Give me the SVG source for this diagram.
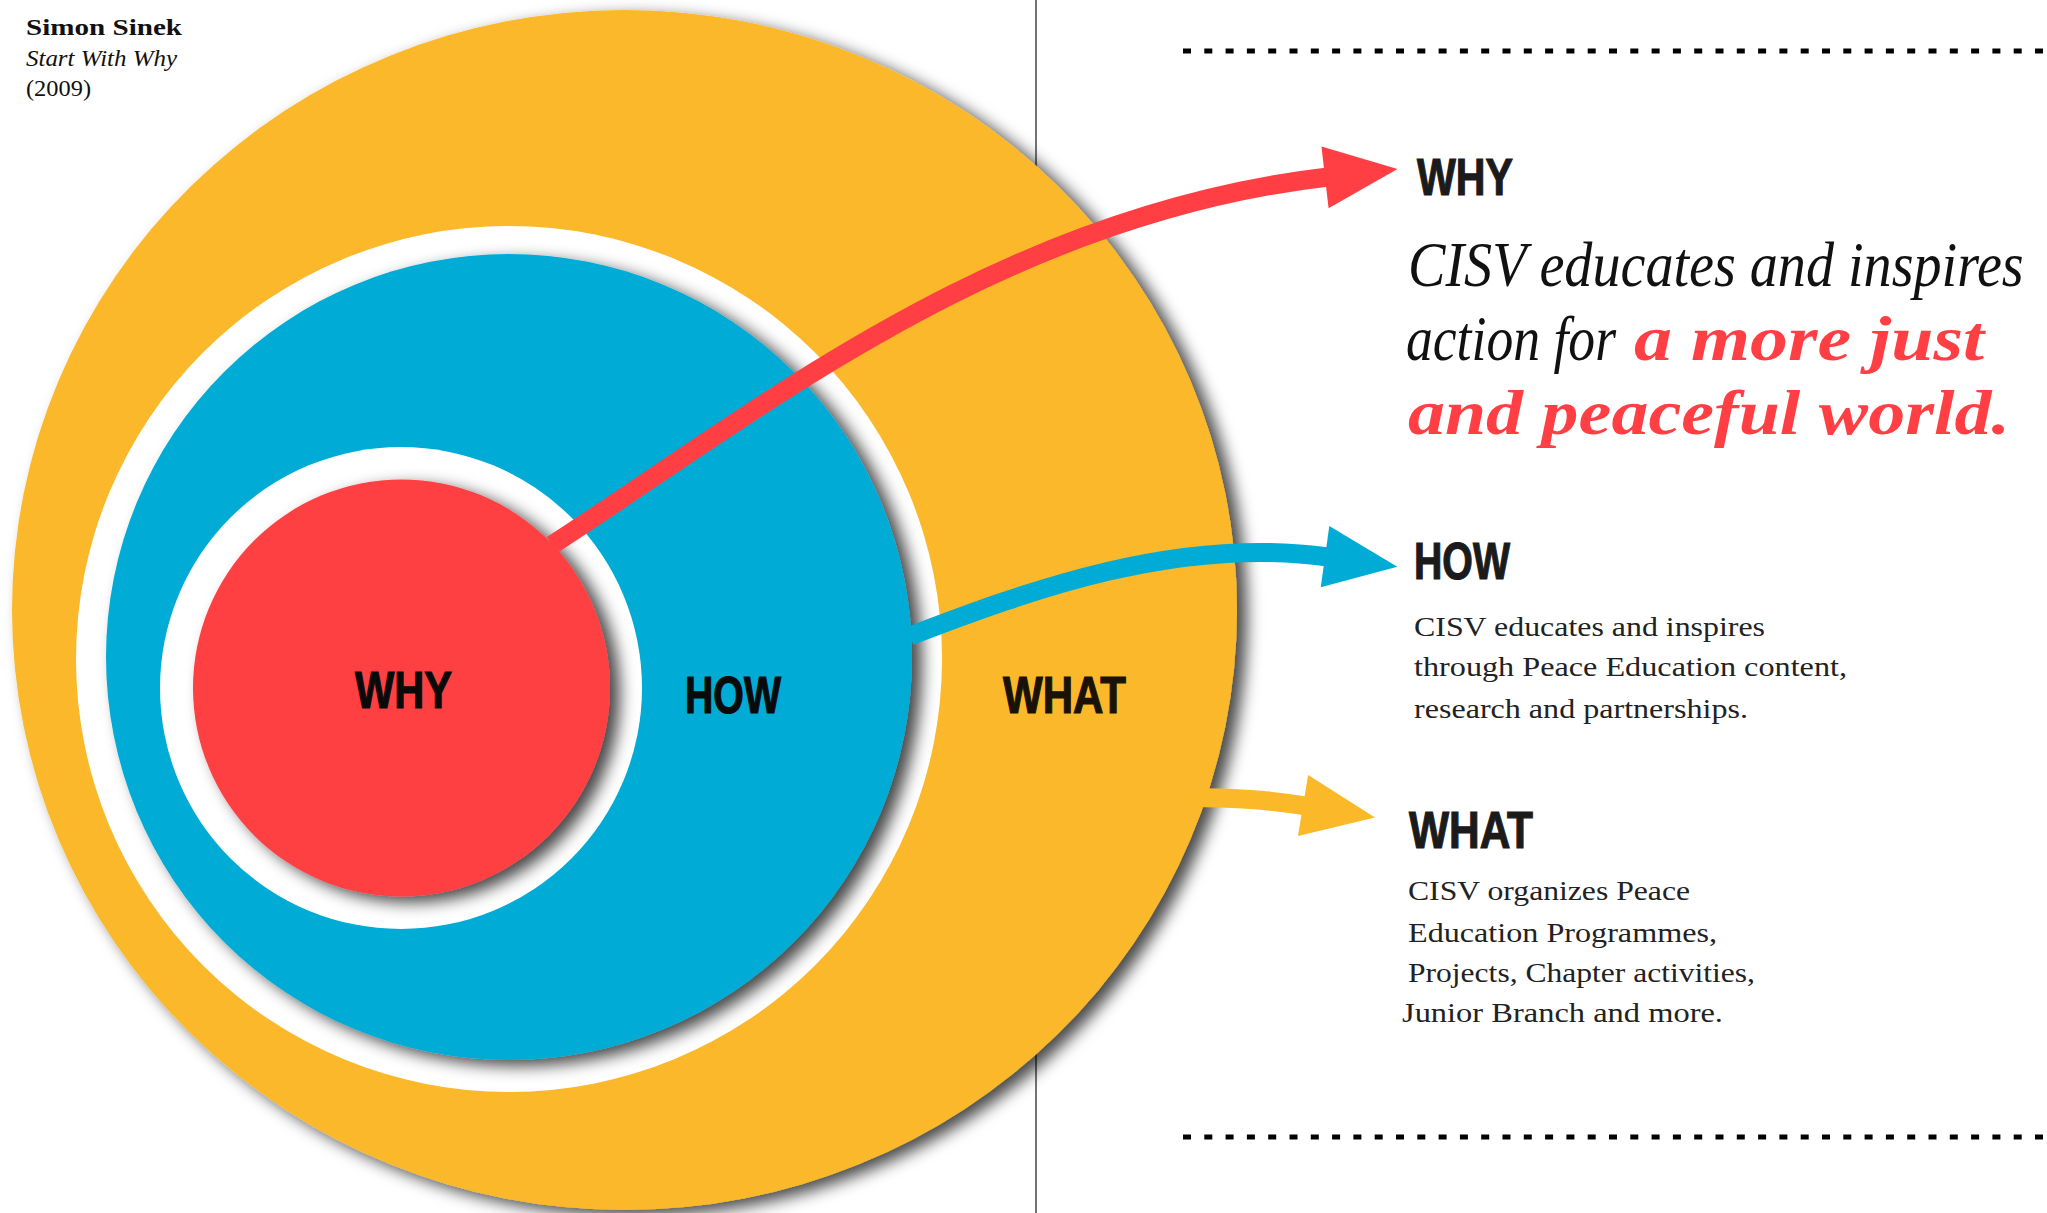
<svg xmlns="http://www.w3.org/2000/svg" width="2047" height="1213" viewBox="0 0 2047 1213">
<style>
.head{font-family:"Liberation Sans",Arial,sans-serif;font-weight:bold;font-size:52px;fill:#1b1b1b;stroke:#1b1b1b;stroke-width:1.2}
.body{font-family:"Liberation Serif","Times New Roman",serif;font-size:28px;fill:#222}
.cite{font-family:"Liberation Serif","Times New Roman",serif;font-size:24px;fill:#111}
.big{font-family:"Liberation Serif","Times New Roman",serif;font-style:italic;font-size:64px;fill:#111}
.bigred{font-family:"Liberation Serif","Times New Roman",serif;font-style:italic;font-weight:bold;font-size:64px;fill:#FF3F43}
.dash{stroke:#000;stroke-width:5;stroke-dasharray:8 13.3;fill:none}
.conn{fill:none;stroke-width:19;stroke-linecap:butt}
</style>
<defs>
<filter id="shadow" x="-10%" y="-10%" width="125%" height="125%">
<feGaussianBlur in="SourceAlpha" stdDeviation="8"/>
<feOffset dx="10" dy="6" result="b"/>
<feFlood flood-color="#000" flood-opacity="0.72"/>
<feComposite in2="b" operator="in"/>
<feMerge><feMergeNode/><feMergeNode in="SourceGraphic"/></feMerge>
</filter>
<marker id="ah-red" markerUnits="userSpaceOnUse" markerWidth="80" markerHeight="70" viewBox="-5 -35 80 70" refX="0" refY="0" orient="auto"><path d="M-3,-31 L70,0 L-3,31 Z" fill="#FF3F43"/></marker>
<marker id="ah-blue" markerUnits="userSpaceOnUse" markerWidth="80" markerHeight="70" viewBox="-5 -35 80 70" refX="0" refY="0" orient="auto"><path d="M-3,-31 L70,0 L-3,31 Z" fill="#00ACD5"/></marker>
<marker id="ah-orange" markerUnits="userSpaceOnUse" markerWidth="80" markerHeight="70" viewBox="-5 -35 80 70" refX="0" refY="0" orient="auto"><path d="M-3,-31 L70,0 L-3,31 Z" fill="#FBB829"/></marker>
</defs>
<rect width="2047" height="1213" fill="#fff"/>
<g id="frame">
<line x1="1036" y1="0" x2="1036" y2="1213" stroke="#444" stroke-width="1.5"/>
<line class="dash" x1="1183" y1="51" x2="2047" y2="51"/>
<line class="dash" x1="1183" y1="1137" x2="2047" y2="1137"/>
</g>
<g id="citation">
<text class="cite" x="26" y="35" font-weight="bold" textLength="156" lengthAdjust="spacingAndGlyphs">Simon Sinek</text>
<text class="cite" x="26" y="66" font-style="italic" textLength="151" lengthAdjust="spacingAndGlyphs">Start With Why</text>
<text class="cite" x="26" y="96" textLength="65" lengthAdjust="spacingAndGlyphs">(2009)</text>
</g>
<g id="node-what">
<ellipse cx="624.5" cy="610" rx="612.5" ry="600" fill="#FBB829" filter="url(#shadow)"/>
<text class="head" x="1003" y="713" style="fill:#1a1206;stroke:#1a1206" textLength="123" lengthAdjust="spacingAndGlyphs">WHAT</text>
</g>
<g id="node-how">
<circle cx="509" cy="659" r="433" fill="#fff"/>
<circle cx="509" cy="657" r="403" fill="#00ACD5" filter="url(#shadow)"/>
<text class="head" x="685" y="713" style="fill:#0a0a0a;stroke:#0a0a0a" textLength="96" lengthAdjust="spacingAndGlyphs">HOW</text>
</g>
<g id="node-why">
<circle cx="401" cy="688" r="241" fill="#fff"/>
<circle cx="401.5" cy="688" r="208.5" fill="#FF3F43" filter="url(#shadow)"/>
<text class="head" x="355" y="708" style="fill:#0a0a0a;stroke:#0a0a0a" textLength="97" lengthAdjust="spacingAndGlyphs">WHY</text>
</g>
<g id="connectors">
<path class="conn" stroke="#FF3F43" d="M552,545 C760,410 1000,215 1328,177" marker-end="url(#ah-red)"/>
<path class="conn" stroke="#00ACD5" d="M910,636 C1030,590 1178,536 1328,557" marker-end="url(#ah-blue)"/>
<path class="conn" stroke="#FBB829" d="M1185,798 C1230,797 1270,800 1306,806" marker-end="url(#ah-orange)"/>
</g>
<g id="text-why">
<text class="head" x="1417" y="195" textLength="96" lengthAdjust="spacingAndGlyphs">WHY</text>
<text class="big" transform="translate(1408,286) scale(0.872,1)" x="0" y="0" textLength="706" lengthAdjust="spacingAndGlyphs">CISV educates and inspires</text>
<text class="big" x="1406" y="360" textLength="210" lengthAdjust="spacingAndGlyphs">action for</text>
<text class="bigred" x="1634" y="360" textLength="350" lengthAdjust="spacingAndGlyphs">a more just</text>
<text class="bigred" x="1408" y="434" textLength="602" lengthAdjust="spacingAndGlyphs">and peaceful world.</text>
</g>
<g id="text-how">
<text class="head" x="1414" y="579" textLength="96" lengthAdjust="spacingAndGlyphs">HOW</text>
<text class="body" x="1414" y="636" textLength="351" lengthAdjust="spacingAndGlyphs">CISV educates and inspires</text>
<text class="body" x="1414" y="676" textLength="433" lengthAdjust="spacingAndGlyphs">through Peace Education content,</text>
<text class="body" x="1414" y="718" textLength="334" lengthAdjust="spacingAndGlyphs">research and partnerships.</text>
</g>
<g id="text-what">
<text class="head" x="1409" y="848" textLength="124" lengthAdjust="spacingAndGlyphs">WHAT</text>
<text class="body" x="1408" y="900" textLength="282" lengthAdjust="spacingAndGlyphs">CISV organizes Peace</text>
<text class="body" x="1408" y="942" textLength="309" lengthAdjust="spacingAndGlyphs">Education Programmes,</text>
<text class="body" x="1408" y="982" textLength="347" lengthAdjust="spacingAndGlyphs">Projects, Chapter activities,</text>
<text class="body" x="1402" y="1022" textLength="321" lengthAdjust="spacingAndGlyphs">Junior Branch and more.</text>
</g>
</svg>
